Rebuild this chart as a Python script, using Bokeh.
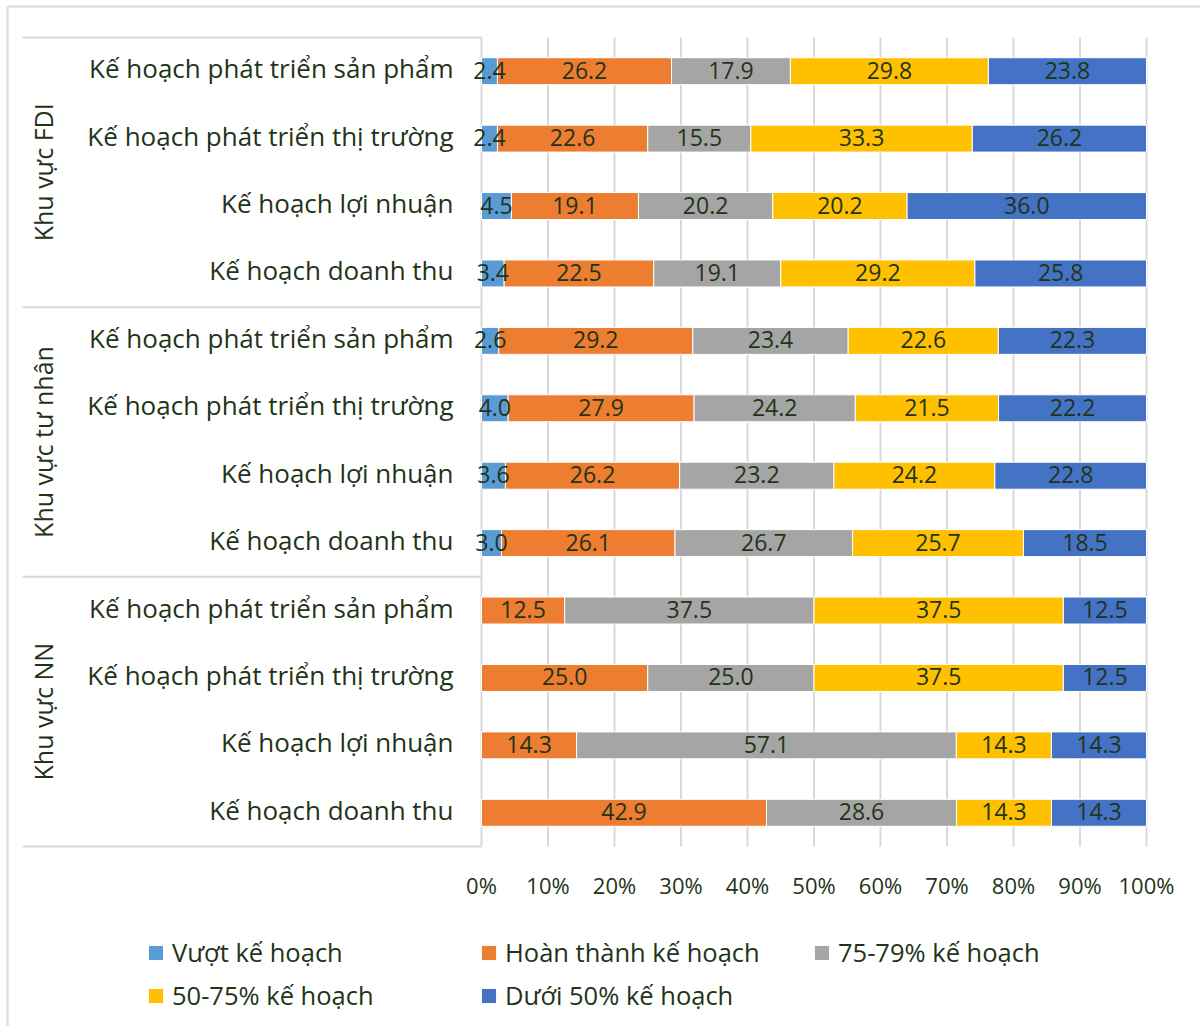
import math
from bokeh.plotting import figure
from bokeh.models import ColumnDataSource, Range1d, Legend, LegendItem
from bokeh.core.properties import value
from bokeh.embed import file_html
from bokeh.resources import INLINE

# ---- data -----------------------------------------------------------------
groups = ["Khu vực FDI", "Khu vực tư nhân", "Khu vực NN"]
plans = ["Kế hoạch phát triển sản phẩm", "Kế hoạch phát triển thị trường",
         "Kế hoạch lợi nhuận", "Kế hoạch doanh thu"]
series = ["Vượt kế hoạch", "Hoàn thành kế hoạch", "75-79% kế hoạch",
          "50-75% kế hoạch", "Dưới 50% kế hoạch"]

# rows listed top to bottom: FDI (4 plans), tư nhân (4 plans), NN (4 plans)
vuot = [2.4, 2.4, 4.5, 3.4, 2.6, 4.0, 3.6, 3.0, 0, 0, 0, 0]
hoan_thanh = [26.2, 22.6, 19.1, 22.5, 29.2, 27.9, 26.2, 26.1, 12.5, 25.0, 14.3, 42.9]
muc_75_79 = [17.9, 15.5, 20.2, 19.1, 23.4, 24.2, 23.2, 26.7, 37.5, 25.0, 57.1, 28.6]
muc_50_75 = [29.8, 33.3, 20.2, 29.2, 22.6, 21.5, 24.2, 25.7, 37.5, 37.5, 14.3, 14.3]
duoi_50 = [23.8, 26.2, 36.0, 25.8, 22.3, 22.2, 22.8, 18.5, 12.5, 12.5, 14.3, 14.3]

ticks = [0, 10, 20, 30, 40, 50, 60, 70, 80, 90, 100]
tick_labels = ["0%", "10%", "20%", "30%", "40%", "50%", "60%", "70%", "80%", "90%", "100%"]

# ---- style ----------------------------------------------------------------
colors = ["#5b9bd5", "#ed7d31", "#a5a5a5", "#ffc000", "#4472c4"]
TEXT = "#223418"
GRID = "#d9d9d9"
FONT = "Open Sans"

W, H = 1200, 1026
X0_PX, PX_PER_PCT = 481, 6.65          # 0% position and pixels per percent
Y_BOTTOM_PX, ROW_PX = 846, 809 / 12    # plot-area bottom and row pitch

def px_x(px):
    return (px - X0_PX) / PX_PER_PCT

def px_y(py):
    return (Y_BOTTOM_PX - py) / ROW_PX

p = figure(width=W, height=H, min_border=0, x_axis_type=None, y_axis_type=None,
           toolbar_location=None, output_backend="svg",
           x_range=Range1d(px_x(0), px_x(W)), y_range=Range1d(px_y(H), px_y(0)))
p.outline_line_color = None
p.background_fill_color = "white"

n_rows = len(vuot)
row_y = [n_rows - 0.5 - i for i in range(n_rows)]

# light frame around the chart area
p.segment(x0=[px_x(7), px_x(7)], y0=[px_y(6), px_y(6)],
          x1=[px_x(W + 5), px_x(7)], y1=[px_y(6), px_y(H + 5)],
          line_color="#dedede", line_width=2.5)

# vertical gridlines (0% doubles as the category axis line)
p.segment(x0=ticks, y0=0, x1=ticks, y1=n_rows, line_color=GRID, line_width=2)

# group separators across the label column
sep_y = [0, 4, 8, 12]
p.segment(x0=px_x(22), y0=sep_y, x1=0, y1=sep_y, line_color=GRID, line_width=2)

# ---- 100% stacked bars ----------------------------------------------------
values = [vuot, hoan_thanh, muc_75_79, muc_50_75, duoi_50]
totals = [sum(v[i] for v in values) for i in range(n_rows)]
left = [0.0] * n_rows
label_x, label_y, label_t = [], [], []
items = []
for name, vals, col in zip(series, values, colors):
    share = [vals[i] / totals[i] * 100 for i in range(n_rows)]
    right = [left[i] + share[i] for i in range(n_rows)]
    src = ColumnDataSource(dict(y=row_y, left=list(left), right=right))
    r = p.hbar(y="y", left="left", right="right", height=0.4, source=src,
               fill_color=col, line_color="white", line_width=1)
    items.append(LegendItem(label=name, renderers=[r]))
    for i in range(n_rows):
        if vals[i] > 0:
            label_x.append((left[i] + right[i]) / 2)
            label_y.append(row_y[i])
            label_t.append(f"{vals[i]:.1f}")
    left = right

p.text(x=label_x, y=label_y, text=label_t, text_align="center", text_baseline="middle",
       y_offset=-1, text_font=value(FONT), text_font_size="23px", text_color=TEXT)

# ---- category labels --------------------------------------------------------
cat_text = [plans[i % 4] for i in range(n_rows)]
p.text(x=px_x(453), y=row_y, text=cat_text, text_align="right", text_baseline="middle",
       y_offset=-3, text_font=value(FONT), text_font_size="26px", text_color=TEXT)

group_y = [10, 6, 2]
p.text(x=px_x(42), y=group_y, text=groups, angle=math.pi / 2, text_align="center",
       text_baseline="middle", text_font=value(FONT), text_font_size="25px",
       text_color=TEXT)

# ---- value axis labels ------------------------------------------------------
p.text(x=ticks, y=px_y(884), text=tick_labels, text_align="center",
       text_baseline="middle", text_font=value(FONT), text_font_size="22px",
       text_color=TEXT)

# ---- legend -----------------------------------------------------------------
legend = Legend(items=items, orientation="horizontal", ncols=3,
                location=(146, 13), padding=0, margin=0, spacing=7,
                glyph_width=19, glyph_height=19, label_standoff=7,
                label_width=300, label_height=36,
                label_text_font=FONT, label_text_font_size="25.5px",
                label_text_color=TEXT, border_line_color=None,
                background_fill_alpha=0)
p.add_layout(legend)

open("out.html", "w").write(file_html(p, INLINE))
